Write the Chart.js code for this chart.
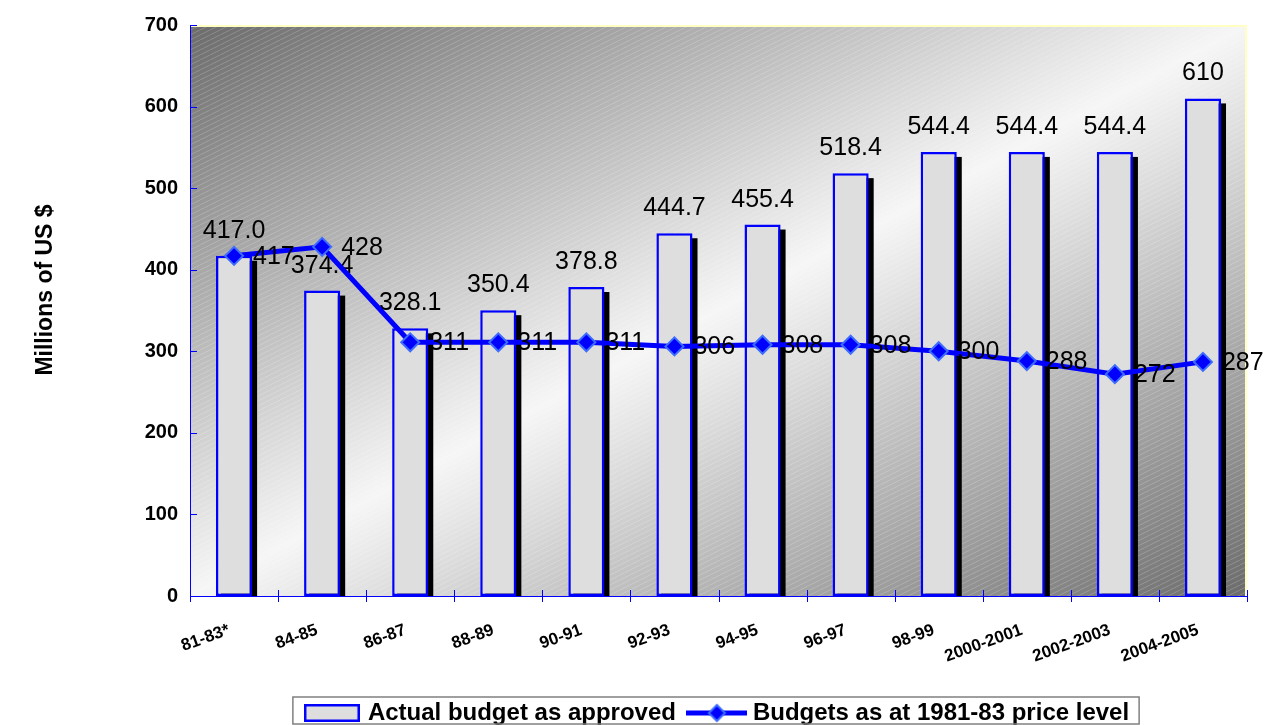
<!DOCTYPE html>
<html>
<head>
<meta charset="utf-8">
<title>Budget chart</title>
<script src="https://cdn.jsdelivr.net/npm/chart.js@4.4.0/dist/chart.umd.min.js"></script>
<style>
    html, body { margin: 0; padding: 0; background: #fff; }
    canvas { display: block; }
</style>
</head>
<body>
<canvas id="budgetChart" width="1264" height="725"></canvas>
<script>
// --- data ---
const CATEGORIES = ['81-83*', '84-85', '86-87', '88-89', '90-91', '92-93', '94-95', '96-97', '98-99', '2000-2001', '2002-2003', '2004-2005'];
const ACTUAL_BUDGET = [417.0, 374.4, 328.1, 350.4, 378.8, 444.7, 455.4, 518.4, 544.4, 544.4, 544.4, 610];
const ACTUAL_LABELS = ['417.0', '374.4', '328.1', '350.4', '378.8', '444.7', '455.4', '518.4', '544.4', '544.4', '544.4', '610'];
const CONSTANT_BUDGET = [417, 428, 311, 311, 311, 306, 308, 308, 300, 288, 272, 287];
const Y_MIN = 0;
const Y_MAX = 700;
const Y_STEP = 100;
const Y_TITLE = 'Millions of US $';

const FONT = '"Liberation Sans", Arial, sans-serif';
const BLUE = '#0000ff';
const BAR_FILL = '#dedede';

Chart.defaults.font.family = FONT;

// small canvases used as legend symbols
function makeBarSwatch() {
    const c = document.createElement('canvas');
    c.width = 56; c.height = 18;
    const g = c.getContext('2d');
    g.fillStyle = BAR_FILL;
    g.fillRect(0, 0, 56, 18);
    g.strokeStyle = BLUE;
    g.lineWidth = 2.5;
    g.strokeRect(1.25, 1.25, 53.5, 15.5);
    return c;
}

function makeLineSwatch() {
    const c = document.createElement('canvas');
    c.width = 61; c.height = 20;
    const g = c.getContext('2d');
    g.strokeStyle = BLUE;
    g.lineWidth = 5;
    g.beginPath(); g.moveTo(0, 10); g.lineTo(61, 10); g.stroke();
    g.fillStyle = BLUE;
    g.strokeStyle = '#3d6cff';
    g.lineWidth = 2;
    g.beginPath();
    g.moveTo(30.5, 2); g.lineTo(38.5, 10); g.lineTo(30.5, 18); g.lineTo(22.5, 10); g.closePath();
    g.fill(); g.stroke();
    return c;
}

// faint diagonal stripes over the plot background
function makeStripes() {
    const c = document.createElement('canvas');
    c.width = 10; c.height = 5;
    const g = c.getContext('2d');
    g.strokeStyle = 'rgba(255,255,255,0.2)';
    g.lineWidth = 1;
    g.beginPath(); g.moveTo(-2, 6); g.lineTo(12, -1); g.stroke();
    return c;
}

const plotBackground = {
    id: 'plotBackground',
    beforeDraw(chart) {
        const { ctx, chartArea: a } = chart;
        const w = a.right - a.left, h = a.bottom - a.top;
        const cx = a.left + w / 2, cy = a.top + h / 2;
        const len = Math.hypot(w, h);
        const ux = h / len, uy = w / len; // light band runs along the anti-diagonal
        const d = w * h / len;
        const grad = ctx.createLinearGradient(cx - ux * d, cy - uy * d, cx + ux * d, cy + uy * d);
        grad.addColorStop(0, '#6b6b6b');
        grad.addColorStop(0.5, '#f6f6f6');
        grad.addColorStop(1, '#6b6b6b');
        ctx.save();
        ctx.fillStyle = grad;
        ctx.fillRect(a.left, a.top, w, h);
        ctx.fillStyle = ctx.createPattern(makeStripes(), 'repeat');
        ctx.fillRect(a.left, a.top, w, h);
        // pale yellow frame on top and right
        ctx.strokeStyle = '#ffffc4';
        ctx.lineWidth = 2;
        ctx.beginPath();
        ctx.moveTo(a.left, a.top + 1); ctx.lineTo(a.right - 1, a.top + 1); ctx.lineTo(a.right - 1, a.bottom);
        ctx.stroke();

        // y axis title, placed like the original (a little above centre)
        ctx.fillStyle = '#000';
        ctx.font = 'bold 23px ' + FONT;
        ctx.textAlign = 'center';
        ctx.textBaseline = 'middle';
        ctx.translate(46, 290);
        ctx.rotate(-Math.PI / 2);
        ctx.fillText(Y_TITLE, 0, 0);
        ctx.restore();
    }
};

// black drop shadow behind each bar
const barShadow = {
    id: 'barShadow',
    beforeDatasetDraw(chart, args) {
        if (args.index !== 0) return;
        const { ctx, chartArea: a } = chart;
        ctx.save();
        ctx.beginPath();
        ctx.rect(a.left, a.top, a.right - a.left, a.bottom - a.top);
        ctx.clip();
        ctx.fillStyle = '#000';
        args.meta.data.forEach(el => {
            ctx.fillRect(el.x - el.width / 2 + 5, el.y + 5, el.width, el.base - el.y);
        });
        ctx.restore();
    }
};

const valueLabels = {
    id: 'valueLabels',
    afterDatasetDraw(chart, args) {
        const ctx = chart.ctx;
        ctx.save();
        ctx.font = '25px ' + FONT;
        ctx.fillStyle = '#000';
        if (args.index === 0) {
            ctx.textAlign = 'center';
            ctx.textBaseline = 'alphabetic';
            args.meta.data.forEach((el, i) => ctx.fillText(ACTUAL_LABELS[i], el.x, el.y - 18));
        } else if (args.index === 1) {
            ctx.textAlign = 'left';
            ctx.textBaseline = 'middle';
            args.meta.data.forEach((el, i) => ctx.fillText(String(CONSTANT_BUDGET[i]), el.x + 19, el.y + 1));
        }
        ctx.restore();
    }
};

// tick marks: inward on the y axis, crossing on the x axis
const axisTicks = {
    id: 'axisTicks',
    afterDraw(chart) {
        const { ctx, chartArea: a, scales } = chart;
        ctx.save();
        ctx.strokeStyle = BLUE;
        ctx.lineWidth = 1;
        ctx.beginPath();
        for (let v = Y_MIN; v <= Y_MAX; v += Y_STEP) {
            const y = Math.round(scales.y.getPixelForValue(v)) + 0.5;
            ctx.moveTo(a.left, y); ctx.lineTo(a.left + 7, y);
        }
        const n = CATEGORIES.length;
        const step = (a.right - a.left) / n;
        for (let i = 0; i <= n; i++) {
            const x = Math.round(a.left + i * step) + 0.5;
            ctx.moveTo(x, a.bottom - 6); ctx.lineTo(x, a.bottom + 6);
        }
        ctx.stroke();

        // frame round the legend
        const hb = chart.legend.legendHitBoxes;
        if (hb && hb.length) {
            const left = Math.min(...hb.map(b => b.left)) - 15;
            const right = Math.max(...hb.map(b => b.left + b.width)) + 10;
            const top = hb[0].top - 4;
            const bottom = chart.height - 1;
            ctx.strokeStyle = '#808080';
            ctx.lineWidth = 1.5;
            ctx.strokeRect(left, top, right - left, bottom - top);
        }
        ctx.restore();
    }
};

const barSwatch = makeBarSwatch();
const lineSwatch = makeLineSwatch();

const ctx = document.getElementById('budgetChart').getContext('2d');
const budgetChart = new Chart(ctx, {
    type: 'bar',
    data: {
        labels: CATEGORIES,
        datasets: [{
            type: 'bar',
            label: 'Actual budget as approved',
            data: ACTUAL_BUDGET,
            backgroundColor: BAR_FILL,
            borderColor: BLUE,
            borderWidth: 2.5,
            borderSkipped: false,
            barPercentage: 0.41,
            categoryPercentage: 1,
            order: 1
        }, {
            type: 'line',
            label: 'Budgets as at 1981-83 price level',
            data: CONSTANT_BUDGET,
            borderColor: BLUE,
            borderWidth: 5,
            tension: 0,
            pointStyle: 'rectRot',
            pointRadius: 9,
            pointBackgroundColor: BLUE,
            pointBorderColor: '#3d6cff',
            pointBorderWidth: 2,
            order: 0
        }]
    },
    options: {
        responsive: false,
        devicePixelRatio: 1,
        animation: false,
        layout: { padding: { top: 25, right: 17, bottom: -10, left: 0 } },
        plugins: {
            tooltip: { enabled: false },
            legend: {
                position: 'bottom',
                fullSize: false,
                labels: {
                    usePointStyle: true,
                    pointStyleWidth: 48,
                    padding: 17,
                    color: '#000',
                    font: { size: 24, weight: 'bold' },
                    generateLabels: () => [
                        { text: 'Actual budget as approved', pointStyle: barSwatch, datasetIndex: 0, hidden: false, lineWidth: 0 },
                        { text: 'Budgets as at 1981-83 price level', pointStyle: lineSwatch, datasetIndex: 1, hidden: false, lineWidth: 0 }
                    ]
                }
            }
        },
        scales: {
            x: {
                offset: true,
                grid: { display: false, drawTicks: false },
                border: { color: BLUE, width: 1 },
                ticks: {
                    autoSkip: false,
                    minRotation: 20,
                    maxRotation: 20,
                    padding: 24,
                    labelOffset: -5,
                    color: '#000',
                    font: { size: 17, weight: 'bold' }
                },
                afterFit: s => { s.height = 88; }
            },
            y: {
                min: Y_MIN,
                max: Y_MAX,
                grid: { display: false, drawTicks: false },
                border: { color: BLUE, width: 1 },
                ticks: {
                    stepSize: Y_STEP,
                    padding: 12,
                    color: '#000',
                    font: { size: 20, weight: 'bold' }
                },
                afterFit: s => { s.width = 190; }
            }
        }
    },
    plugins: [plotBackground, barShadow, valueLabels, axisTicks]
});
</script>
</body>
</html>
